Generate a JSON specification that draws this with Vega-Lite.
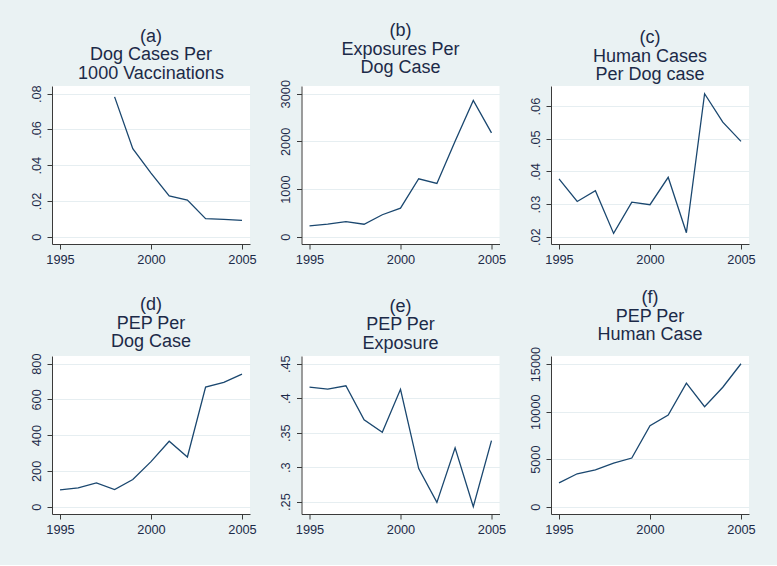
{
  "$schema": "https://vega.github.io/schema/vega-lite/v6.json",
  "padding": {"left": 30, "top": 22, "right": 21, "bottom": 29},
  "background": "#EAF2F3",
  "data": {
    "values": [
      {"year": 1995, "a": null, "b": 225, "c": 0.0377, "d": 94, "e": 0.416, "f": 2506},
      {"year": 1996, "a": null, "b": 261, "c": 0.0308, "d": 105, "e": 0.4132, "f": 3459},
      {"year": 1997, "a": null, "b": 316, "c": 0.0341, "d": 133, "e": 0.418, "f": 3882},
      {"year": 1998, "a": 0.0782, "b": 261, "c": 0.021, "d": 96, "e": 0.3686, "f": 4588},
      {"year": 1999, "a": 0.0492, "b": 460, "c": 0.0306, "d": 152, "e": 0.3507, "f": 5118},
      {"year": 2000, "a": 0.0356, "b": 598, "c": 0.0298, "d": 252, "e": 0.413, "f": 8506},
      {"year": 2001, "a": 0.0228, "b": 1215, "c": 0.0382, "d": 366, "e": 0.298, "f": 9635},
      {"year": 2002, "a": 0.0205, "b": 1117, "c": 0.0212, "d": 278, "e": 0.249, "f": 12988},
      {"year": 2003, "a": 0.0101, "b": 2001, "c": 0.0638, "d": 669, "e": 0.328, "f": 10518},
      {"year": 2004, "a": 0.0097, "b": 2858, "c": 0.0551, "d": 695, "e": 0.2427, "f": 12565},
      {"year": 2005, "a": 0.0091, "b": 2178, "c": 0.0492, "d": 742, "e": 0.3386, "f": 15035}
    ]
  },
  "columns": 3,
  "spacing": {"row": 112, "column": 51.5},
  "bounds": "flush",
  "concat": [
    {
      "title": {"text": ["(a)", "Dog Cases Per", "1000 Vaccinations"]},
      "width": 198, "height": 158,
      "mark": {"type": "line", "color": "#1a476f", "strokeWidth": 1.3},
      "encoding": {
        "x": {"field": "year", "type": "quantitative", "scale": {"domain": [1994.56, 2005.44], "nice": false, "zero": false}, "axis": {"values": [1995, 2000, 2005], "format": "d", "title": null, "grid": false}},
        "y": {"field": "a", "type": "quantitative", "scale": {"domain": [-0.0041, 0.0843], "nice": false, "zero": false}, "axis": {"values": [0, 0.02, 0.04, 0.06, 0.08], "labelExpr": "datum.value == 0 ? '0' : replace(format(datum.value, '.2f'), '0.', '.')", "title": null}}
      }
    },
    {
      "title": {"text": ["(b)", "Exposures Per", "Dog Case"]},
      "width": 198, "height": 158,
      "mark": {"type": "line", "color": "#1a476f", "strokeWidth": 1.3},
      "encoding": {
        "x": {"field": "year", "type": "quantitative", "scale": {"domain": [1994.56, 2005.44], "nice": false, "zero": false}, "axis": {"values": [1995, 2000, 2005], "format": "d", "title": null, "grid": false}},
        "y": {"field": "b", "type": "quantitative", "scale": {"domain": [-154, 3162], "nice": false, "zero": false}, "axis": {"values": [0, 1000, 2000, 3000], "format": "d", "title": null}}
      }
    },
    {
      "title": {"text": ["(c)", "Human Cases", "Per Dog case"]},
      "width": 198, "height": 158,
      "mark": {"type": "line", "color": "#1a476f", "strokeWidth": 1.3},
      "encoding": {
        "x": {"field": "year", "type": "quantitative", "scale": {"domain": [1994.56, 2005.44], "nice": false, "zero": false}, "axis": {"values": [1995, 2000, 2005], "format": "d", "title": null, "grid": false}},
        "y": {"field": "c", "type": "quantitative", "scale": {"domain": [0.01776, 0.06617], "nice": false, "zero": false}, "axis": {"values": [0.02, 0.03, 0.04, 0.05, 0.06], "labelExpr": "replace(format(datum.value, '.2f'), '0.', '.')", "title": null}}
      }
    },
    {
      "title": {"text": ["(d)", "PEP Per", "Dog Case"]},
      "width": 198, "height": 158,
      "mark": {"type": "line", "color": "#1a476f", "strokeWidth": 1.3},
      "encoding": {
        "x": {"field": "year", "type": "quantitative", "scale": {"domain": [1994.56, 2005.44], "nice": false, "zero": false}, "axis": {"values": [1995, 2000, 2005], "format": "d", "title": null, "grid": false}},
        "y": {"field": "d", "type": "quantitative", "scale": {"domain": [-41, 843], "nice": false, "zero": false}, "axis": {"values": [0, 200, 400, 600, 800], "format": "d", "title": null}}
      }
    },
    {
      "title": {"text": ["(e)", "PEP Per", "Exposure"]},
      "width": 198, "height": 158,
      "mark": {"type": "line", "color": "#1a476f", "strokeWidth": 1.3},
      "encoding": {
        "x": {"field": "year", "type": "quantitative", "scale": {"domain": [1994.56, 2005.44], "nice": false, "zero": false}, "axis": {"values": [1995, 2000, 2005], "format": "d", "title": null, "grid": false}},
        "y": {"field": "e", "type": "quantitative", "scale": {"domain": [0.2321, 0.4612], "nice": false, "zero": false}, "axis": {"values": [0.25, 0.3, 0.35, 0.4, 0.45], "labelExpr": "replace(format(datum.value, '.2~f'), '0.', '.')", "title": null}}
      }
    },
    {
      "title": {"text": ["(f)", "PEP Per", "Human Case"]},
      "width": 198, "height": 158,
      "mark": {"type": "line", "color": "#1a476f", "strokeWidth": 1.3},
      "encoding": {
        "x": {"field": "year", "type": "quantitative", "scale": {"domain": [1994.56, 2005.44], "nice": false, "zero": false}, "axis": {"values": [1995, 2000, 2005], "format": "d", "title": null, "grid": false}},
        "y": {"field": "f", "type": "quantitative", "scale": {"domain": [-771, 15848], "nice": false, "zero": false}, "axis": {"values": [0, 5000, 10000, 15000], "format": "d", "title": null}}
      }
    }
  ],
  "config": {
    "view": {"fill": "white", "stroke": null},
    "font": "Liberation Sans",
    "title": {"fontSize": 18, "fontWeight": "normal", "color": "#1c2a48", "lineHeight": 18.5, "baseline": "bottom", "offset": 2, "anchor": "middle", "font": "Liberation Sans"},
    "axis": {"domainColor": "#3a3a3a", "tickColor": "#3a3a3a", "tickSize": 5, "labelFont": "Liberation Sans", "labelFontSize": 12.8, "labelColor": "#1c2a48", "gridColor": "#E6EEF1", "labelFlush": false, "labelOverlap": false},
    "axisY": {"labelAngle": 270, "labelAlign": "center", "labelBaseline": "bottom", "labelPadding": 4},
    "axisX": {"labelPadding": 4}
  }
}
